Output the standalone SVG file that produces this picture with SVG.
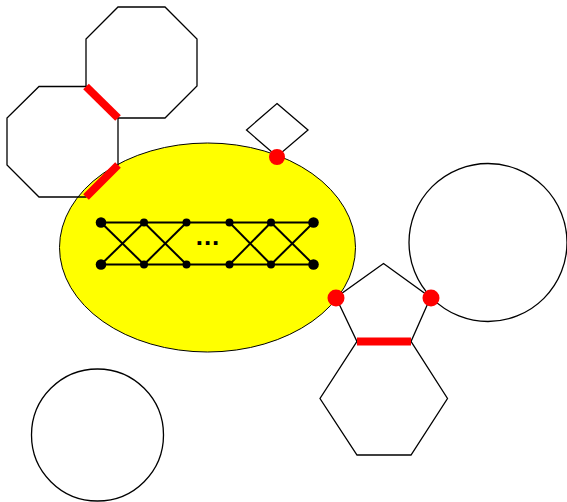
<svg xmlns="http://www.w3.org/2000/svg" width="567" height="502" viewBox="0 0 567 502">
  <style>
    .shape { fill: none; stroke: #000; stroke-width: 1.3; stroke-linejoin: miter; }
    .blob { fill: #ffff00; stroke: #000; stroke-width: 1; }
    .edge { stroke: #000; stroke-width: 2; fill: none; }
    .glue { stroke: #ff0000; stroke-width: 8; stroke-linecap: butt; }
    .port { fill: #ff0000; }
    .v { fill: #000; }
    .dots { font-family: "Liberation Sans", Arial, sans-serif; font-weight: bold; font-size: 26px; fill: #000; }
  </style>

  <rect width="567" height="502" fill="#fff"/>

  <!-- central yellow region with ladder graph -->
  <g id="region">
    <ellipse class="blob" cx="207.5" cy="247.5" rx="148" ry="104.5"/>
  </g>

  <g id="ladder">
    <g class="edge">
      <line x1="101" y1="222.5" x2="313.5" y2="222.5"/>
      <line x1="101" y1="264.5" x2="313.5" y2="264.5"/>
      <line x1="101" y1="222.5" x2="144" y2="264.5"/>
      <line x1="101" y1="264.5" x2="144" y2="222.5"/>
      <line x1="144" y1="222.5" x2="186.5" y2="264.5"/>
      <line x1="144" y1="264.5" x2="186.5" y2="222.5"/>
      <line x1="229.5" y1="222.5" x2="271" y2="264.5"/>
      <line x1="229.5" y1="264.5" x2="271" y2="222.5"/>
      <line x1="271" y1="222.5" x2="313.5" y2="264.5"/>
      <line x1="271" y1="264.5" x2="313.5" y2="222.5"/>
    </g>
    <g class="v">
      <circle cx="101" cy="222.5" r="5.3"/>
      <circle cx="101" cy="264.5" r="5.3"/>
      <circle cx="313.5" cy="222.5" r="5.3"/>
      <circle cx="313.5" cy="264.5" r="5.3"/>
      <circle cx="144" cy="222.5" r="4"/>
      <circle cx="144" cy="264.5" r="4"/>
      <circle cx="186.5" cy="222.5" r="4"/>
      <circle cx="186.5" cy="264.5" r="4"/>
      <circle cx="229.5" cy="222.5" r="4"/>
      <circle cx="229.5" cy="264.5" r="4"/>
      <circle cx="271" cy="222.5" r="4"/>
      <circle cx="271" cy="264.5" r="4"/>
    </g>
    <text class="dots" x="208" y="244.5" text-anchor="middle" letter-spacing="1">...</text>
  </g>

  <!-- octagons, upper left -->
  <g id="octagon-top">
    <polygon class="shape" points="118,7 165,7 197,39 197,86 165,118 118,118 86,86 86,39"/>
  </g>
  <g id="octagon-left">
    <polygon class="shape" points="39,86.5 86,86.5 118,118 118,165 86,197 39,197 7,165 7,118"/>
  </g>

  <!-- small diamond on top of the region -->
  <g id="diamond">
    <polygon class="shape" points="277,103.5 308,130 277,156.5 246.5,130"/>
  </g>

  <!-- pentagon and hexagon on the right -->
  <g id="pentagon">
    <polygon class="shape" points="383.5,263.5 430.5,297.5 411,341.5 357,341.5 336,297.5"/>
  </g>
  <g id="hexagon">
    <polygon class="shape" points="357,341.5 411,341.5 447.5,398.5 411,455 357,455 320,398.5"/>
  </g>

  <!-- circles -->
  <g id="circle-right">
    <circle class="shape" cx="488" cy="242.5" r="79"/>
  </g>
  <g id="circle-bottom">
    <circle class="shape" cx="97.5" cy="435" r="66"/>
  </g>

  <!-- shared edges and contact points -->
  <g id="connectors">
    <line class="glue" x1="86" y1="86.5" x2="118" y2="118"/>
    <line class="glue" x1="118" y1="165" x2="86" y2="197"/>
    <line class="glue" x1="357" y1="341.5" x2="411" y2="341.5"/>
    <circle class="port" cx="277" cy="157" r="8"/>
    <circle class="port" cx="336" cy="298" r="8.5"/>
    <circle class="port" cx="431" cy="298" r="8.5"/>
  </g>
</svg>
